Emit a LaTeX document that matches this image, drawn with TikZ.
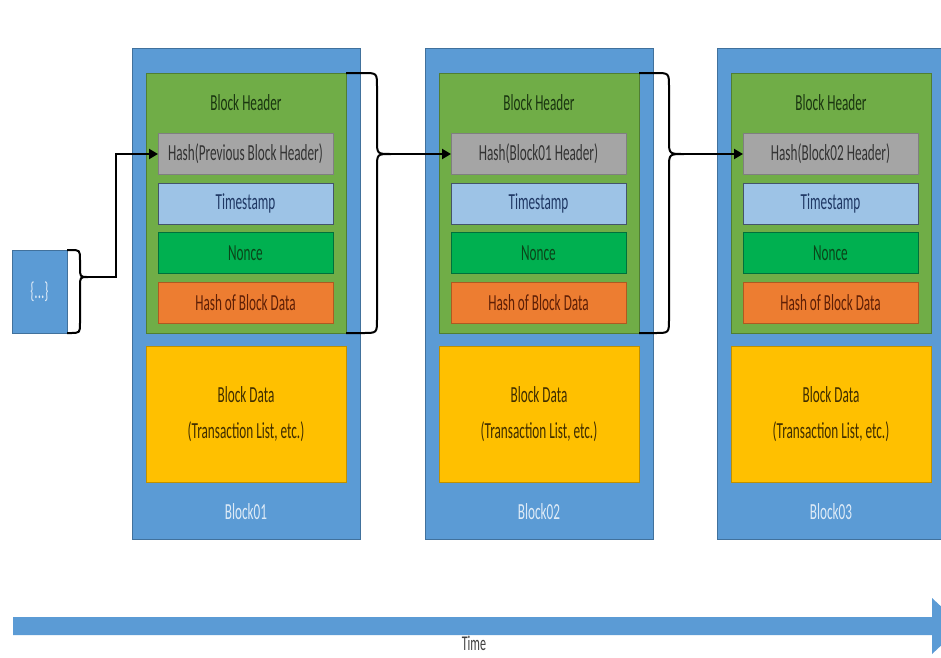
\documentclass[tikz,border=0pt]{standalone}
\usepackage{fontspec}
\setmainfont{Carlito}[FakeStretch=0.575]
\usetikzlibrary{arrows.meta,calc}
\definecolor{blueM}{HTML}{5B9BD5}
\definecolor{blueD}{HTML}{41719C}
\definecolor{greenH}{HTML}{70AD47}
\definecolor{greenHD}{HTML}{507E32}
\definecolor{grayF}{HTML}{A5A5A5}
\definecolor{grayD}{HTML}{7F7F7F}
\definecolor{grayT}{HTML}{333333}
\definecolor{lbF}{HTML}{9DC3E6}
\definecolor{lbD}{HTML}{44546A}
\definecolor{lbT}{HTML}{1F3864}
\definecolor{nonceF}{HTML}{00B050}
\definecolor{nonceD}{HTML}{00703C}
\definecolor{nonceT}{HTML}{0B4419}
\definecolor{orF}{HTML}{ED7D31}
\definecolor{orD}{HTML}{AE5A21}
\definecolor{orT}{HTML}{5E1F06}
\definecolor{yeF}{HTML}{FFC000}
\definecolor{yeD}{HTML}{BF9000}
\definecolor{yeT}{HTML}{3F2D00}
\definecolor{titleT}{HTML}{1A3510}
\definecolor{labT}{HTML}{DEEBF7}
\definecolor{timeT}{HTML}{404040}
\newcommand\mybrace[7]{%
  \draw[bracestyle] (#1,#2) -- (#4-#7,#2) .. controls (#4,#2) .. (#4,#2+#7)
    -- (#4,#6-#7) .. controls (#4,#6) .. (#5,#6)
    .. controls (#4,#6) .. (#4,#6+#7) -- (#4,#3-#7)
    .. controls (#4,#3) .. (#4-#7,#3) -- (#1,#3);}
\newcommand\chainblock[4]{%
  \node[outerbox] (o#1) at (246+#2,293.5) {};
  \node[hdrbox] (h#1) at (246+#2,203) {};
  \node[txt, text=titleT] (ht#1) at (246+#2,103) {Block Header};
  \node[rowbox, fill=grayF, draw=grayD, text=grayT] (p#1) at (245.5+#2,154) {#3};
  \node[rowbox, fill=lbF, draw=lbD, text=lbT] (t#1) at (245.5+#2,203.5) {Timestamp};
  \node[rowbox, fill=nonceF, draw=nonceD, text=nonceT] (n#1) at (245.5+#2,253) {Nonce};
  \node[rowbox, fill=orF, draw=orD, text=orT] (d#1) at (245.5+#2,302.5) {Hash of Block Data};
  \node[databox] (bd#1) at (246+#2,414) {Block Data\\(Transaction List, etc.)};
  \node[txt, text=labT] (lab#1) at (246+#2,512) {#4};
}
\begin{document}
\begin{tikzpicture}[x=1pt,y=-1pt,
  txt/.style={font=\fontsize{23}{26}\selectfont, inner sep=0pt},
  box/.style={rectangle, inner sep=0pt, outer sep=0pt, line width=1pt},
  outerbox/.style={box, fill=blueM, draw=blueD, minimum width=228pt, minimum height=491pt},
  hdrbox/.style={box, fill=greenH, draw=greenHD, minimum width=200pt, minimum height=260pt},
  rowbox/.style={box, txt, minimum width=175pt, minimum height=41pt},
  databox/.style={box, fill=yeF, draw=yeD, text=yeT, minimum width=200pt, minimum height=136pt,
     align=center, font=\fontsize{23}{36}\selectfont},
  bracestyle/.style={line width=2pt, line join=round, black},
  link/.style={line width=2.2pt, -{Triangle[length=9pt,width=10pt]}}
]
\clip (0,0) rectangle (941,657);
\fill[white] (0,0) rectangle (941,657);

\chainblock{1}{0}{Hash(Previous Block Header)}{Block01}
\chainblock{2}{293}{Hash(Block01 Header)}{Block02}
\chainblock{3}{585}{Hash(Block02 Header)}{Block03}

% earlier block
\node[box, fill=blueM, draw=blueD, minimum width=55pt, minimum height=83pt,
      txt, text=labT] (b0) at (39.5,291.5) {\{...\}};

% braces
\mybrace{67}{250}{333}{80}{88}{277}{10}
\coordinate (tip0) at (88,277);
\coordinate (bend0) at (116,277);
\mybrace{346}{73}{333}{377}{391}{154}{14}
\coordinate (tip1) at (391,154);
\mybrace{639}{73}{333}{669}{684}{154}{14}
\coordinate (tip2) at (684,154);

% connectors
\draw[link] (tip0) -- (bend0) |- (p1.west);
\draw[link] (tip1) -- (p2.west);
\draw[link] (tip2) -- (p3.west);

% time arrow
\fill[blueM] (13,617) -- (932,617) -- (932,598) -- (962,626) -- (932,654)
  -- (932,635) -- (13,635) -- cycle;
\node[txt, text=timeT, anchor=south, font=\fontsize{21}{24}\selectfont] (time) at (474,651) {Time};
\end{tikzpicture}
\end{document}
